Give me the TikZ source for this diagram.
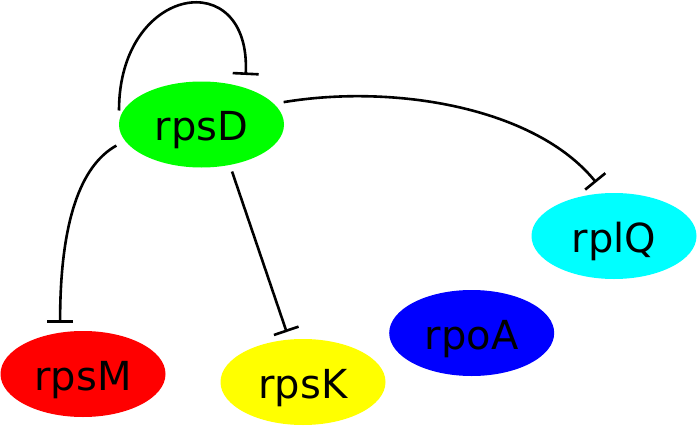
\documentclass[tikz,border=0pt]{standalone}
\usepackage{fontspec}
\usepackage{xcolor}
\usetikzlibrary{arrows.meta,shapes.geometric}
\newfontfamily\genefont{DejaVu Sans}
\definecolor{geneGreen}{RGB}{0,255,0}
\definecolor{geneCyan}{RGB}{0,255,255}
\definecolor{geneBlue}{RGB}{0,0,255}
\definecolor{geneRed}{RGB}{255,0,0}
\definecolor{geneYellow}{RGB}{255,255,0}
\tikzset{
  gene/.style={ellipse,minimum width=165pt,minimum height=86pt,inner sep=0pt,outer sep=0pt,
    font=\genefont\fontsize{40}{44}\selectfont,text height=32pt,text depth=0pt},
  inh/.style={-{Bar[width=26pt]},line width=2.6pt}
}

\begin{document}
\begin{tikzpicture}[x=1pt,y=-1pt]
  \useasboundingbox (0,0) rectangle (697,426);
  \node[gene,fill=geneGreen]  (rpsD) at (201.5,124.5) {rpsD};
  \node[gene,fill=geneCyan]   (rplQ) at (614,236)     {rplQ};
  \node[gene,fill=geneBlue]   (rpoA) at (471.7,333)   {rpoA};
  \node[gene,fill=geneRed]    (rpsM) at (83,374)      {rpsM};
  \node[gene,fill=geneYellow] (rpsK) at (303,382)     {rpsK};
  \draw[inh,shorten <=14pt,shorten >=13pt] (rpsD.west) .. controls +(0,-140) and +(6,-124) .. (rpsD.40);
  \draw[inh,shorten <=10pt,shorten >=14pt] (rpsD.16) .. controls +(120,-20) and +(-70,-86) .. (rplQ.102);
  \draw[inh,shorten <=10pt,shorten >=10pt] (rpsD.192) .. controls +(-45,25) and +(0,-110) .. (rpsM.119);
  \draw[inh,shorten <=7pt,shorten >=8pt] (rpsD.-55) -- (rpsK.108);
\end{tikzpicture}
\end{document}
